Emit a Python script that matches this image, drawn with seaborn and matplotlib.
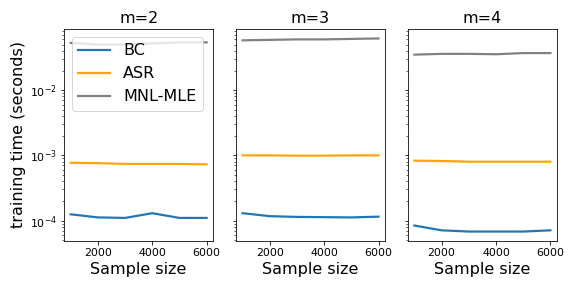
import pandas as pd
import seaborn as sns
import matplotlib.pyplot as plt

# sample sizes and training times
sample_sizes = [1000, 2000, 3000, 4000, 5000, 6000]
m_values = [2, 3, 4]

bc_times = {
    2: [1.25e-4, 1.12e-4, 1.10e-4, 1.30e-4, 1.10e-4, 1.10e-4],
    3: [1.30e-4, 1.17e-4, 1.14e-4, 1.13e-4, 1.12e-4, 1.15e-4],
    4: [8.4e-5, 7.1e-5, 6.8e-5, 6.8e-5, 6.8e-5, 7.1e-5],
}
asr_times = {
    2: [7.7e-4, 7.6e-4, 7.4e-4, 7.4e-4, 7.4e-4, 7.3e-4],
    3: [1.0e-3, 1.0e-3, 9.9e-4, 9.9e-4, 1.0e-3, 1.0e-3],
    4: [8.3e-4, 8.2e-4, 8.0e-4, 8.0e-4, 8.0e-4, 8.0e-4],
}
mle_times = {
    2: [0.053, 0.050, 0.050, 0.052, 0.054, 0.054],
    3: [0.058, 0.059, 0.060, 0.060, 0.061, 0.062],
    4: [0.035, 0.036, 0.036, 0.0355, 0.037, 0.037],
}

rows = []
for m in m_values:
    for name, times in [('BC', bc_times), ('ASR', asr_times), ('MNL-MLE', mle_times)]:
        for n, t in zip(sample_sizes, times[m]):
            rows.append({'m': m, 'method': name, 'n': n, 'time': t})
data = pd.DataFrame(rows)

colors = {'BC': '#1f77b4', 'ASR': 'orange', 'MNL-MLE': 'grey'}

fig, axes = plt.subplots(1, 3, figsize=(8, 4), dpi=72, sharey=True)
for ax, m in zip(axes, m_values):
    sns.lineplot(data=data[data['m'] == m], x='n', y='time', hue='method',
                 palette=colors, linewidth=2.2, ax=ax, legend=(m == 2))
    ax.set_yscale('log')
    ax.set_title(f'm={m}', fontsize=16)
    ax.set_xlabel('Sample size', fontsize=16)
    ax.set_ylabel('')
    ax.set_xticks([2000, 4000, 6000])
    ax.tick_params(labelsize=11)

axes[0].set_ylabel('training time (seconds)', fontsize=16)
axes[0].legend(fontsize=16, loc='upper left')
plt.tight_layout()
plt.savefig('out.png')
